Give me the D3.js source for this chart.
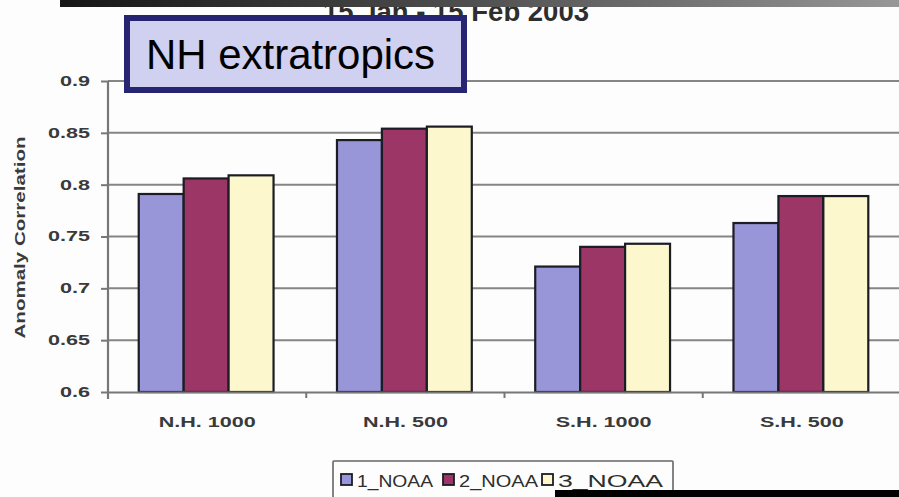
<!DOCTYPE html>
<html>
<head>
<meta charset="utf-8">
<script src="https://cdn.jsdelivr.net/npm/d3@7/dist/d3.min.js"></script>
<style>
  html, body { margin: 0; padding: 0; background: #fdfdfd; }
  svg { display: block; font-family: Arial, "Liberation Sans", sans-serif; }
</style>
</head>
<body>
<svg id="chart" width="899" height="497"></svg>
<script>
// Regions verified and anomaly correlation for each run
const categories = ["N.H. 1000", "N.H. 500", "S.H. 1000", "S.H. 500"];
const seriesNames = ["1_NOAA", "2_NOAA", "3_NOAA"];
const noaa1 = [0.791, 0.843, 0.721, 0.763];
const noaa2 = [0.806, 0.854, 0.740, 0.789];
const noaa3 = [0.809, 0.856, 0.743, 0.789];
const seriesValues = [noaa1, noaa2, noaa3];
const yTicks = [0.6, 0.65, 0.7, 0.75, 0.8, 0.85, 0.9];
const colors = ["#9896d8", "#9b3667", "#fcf7cc"];
const periodTitle = "15 Jan - 15 Feb 2003";
const panelLabel = "NH extratropics";
const yTitle = "Anomaly Correlation";

const svg = d3.select("#chart");

// fit text elements to a wider horizontal footprint
function widen(sel, k) {
  sel.each(function () {
    const w = this.getComputedTextLength();
    this.setAttribute("textLength", w * k);
    this.setAttribute("lengthAdjust", "spacingAndGlyphs");
  });
}
// stretch factor so that a sample label reaches a target width
function factorFor(sample, target, size, weight) {
  const t = svg.append("text").attr("font-size", size).attr("font-weight", weight).text(sample);
  const w = t.node().getComputedTextLength();
  t.remove();
  return target / w;
}

const plot = { left: 108, right: 901, top: 81, bottom: 392 };

const x0 = d3.scaleBand().domain(categories).range([plot.left, plot.right]).padding(0);
const x1 = d3.scaleBand().domain(seriesNames)
  .range([x0.bandwidth() * 0.155, x0.bandwidth() * 0.835]).padding(0);
const y = d3.scaleLinear().domain([0.6, 0.9]).range([plot.bottom, plot.top]);

// horizontal grid
svg.append("g")
  .selectAll("line")
  .data(yTicks.slice(1))
  .join("line")
  .attr("x1", plot.left).attr("x2", plot.right)
  .attr("y1", d => y(d)).attr("y2", d => y(d))
  .attr("stroke", "#858585").attr("stroke-width", 2);

// bars
const groups = svg.append("g")
  .selectAll("g")
  .data(categories)
  .join("g")
  .attr("transform", c => `translate(${x0(c)},0)`);

groups.selectAll("rect")
  .data((c, i) => seriesNames.map((s, j) => ({ s, j, v: seriesValues[j][i] })))
  .join("rect")
  .attr("x", d => x1(d.s))
  .attr("width", x1.bandwidth())
  .attr("y", d => y(d.v))
  .attr("height", d => y(0.6) - y(d.v))
  .attr("fill", d => colors[d.j])
  .attr("stroke", "#1c1c24")
  .attr("stroke-width", 2.2);

// y axis
const yFactor = factorFor("0.85", 42, 14, "bold");
const yAxis = svg.append("g")
  .attr("transform", `translate(${plot.left},0)`)
  .call(d3.axisLeft(y).tickValues(yTicks).tickFormat(d3.format("")).tickSize(7).tickPadding(11));
yAxis.select(".domain").attr("stroke", "#777").attr("stroke-width", 2.2)
  .attr("d", `M0,${plot.top}V${plot.bottom + 7}`);
yAxis.selectAll(".tick line").attr("stroke", "#777").attr("stroke-width", 2);
yAxis.selectAll(".tick text")
  .attr("font-size", 14).attr("font-weight", "bold").attr("fill", "#3a3a3a")
  .attr("font-family", "Arial, 'Liberation Sans', sans-serif")
  .call(widen, yFactor);

// x axis baseline and category separators
const xFactor = factorFor("N.H. 1000", 97, 15, "bold");
const xAxis = svg.append("g")
  .attr("transform", `translate(0,${plot.bottom})`)
  .call(d3.axisBottom(x0).tickSize(0).tickPadding(24));
xAxis.select(".domain").attr("stroke", "#777").attr("stroke-width", 2);
xAxis.selectAll(".tick text")
  .attr("font-size", 15).attr("font-weight", "bold").attr("fill", "#3a3a3a")
  .attr("font-family", "Arial, 'Liberation Sans', sans-serif")
  .call(widen, xFactor);
svg.append("g")
  .selectAll("line")
  .data(categories.slice(1))
  .join("line")
  .attr("x1", c => x0(c)).attr("x2", c => x0(c))
  .attr("y1", plot.bottom).attr("y2", plot.bottom + 6)
  .attr("stroke", "#777").attr("stroke-width", 2);

// y axis title
svg.append("text")
  .attr("transform", `translate(25,${(plot.top + plot.bottom) / 2 + 1}) rotate(-90)`)
  .attr("text-anchor", "middle")
  .attr("font-size", 15).attr("font-weight", "bold").attr("fill", "#3a3a3a")
  .attr("textLength", 202).attr("lengthAdjust", "spacingAndGlyphs")
  .text(yTitle);

// period title (partly hidden under the header bar and the label box)
svg.append("text")
  .attr("x", 456).attr("y", 21)
  .attr("text-anchor", "middle")
  .attr("font-size", 28).attr("font-weight", "bold").attr("fill", "#2e2e2e")
  .attr("textLength", 266).attr("lengthAdjust", "spacingAndGlyphs")
  .text(periodTitle);

// header bar
const defs = svg.append("defs");
const grad = defs.append("linearGradient").attr("id", "bar-grad")
  .attr("x1", "0%").attr("x2", "100%").attr("y1", "0%").attr("y2", "0%");
grad.append("stop").attr("offset", "0%").attr("stop-color", "#161616");
grad.append("stop").attr("offset", "45%").attr("stop-color", "#4a4a4a");
grad.append("stop").attr("offset", "100%").attr("stop-color", "#979797");
svg.append("rect")
  .attr("x", 60).attr("y", 0).attr("width", 839).attr("height", 7)
  .attr("fill", "url(#bar-grad)");

// panel label box
svg.append("rect")
  .attr("x", 127).attr("y", 18).attr("width", 337).attr("height", 72)
  .attr("fill", "#d0d0f0").attr("stroke", "#272472").attr("stroke-width", 6);
svg.append("text")
  .attr("x", 146).attr("y", 69)
  .attr("font-size", 43).attr("fill", "#000")
  .attr("font-family", "Arial, 'Liberation Sans', sans-serif")
  .attr("textLength", 289).attr("lengthAdjust", "spacingAndGlyphs")
  .text(panelLabel);

// legend
const legend = svg.append("g");
legend.append("rect")
  .attr("x", 333).attr("y", 461).attr("width", 340).attr("height", 44)
  .attr("fill", "#fdfdfd").attr("stroke", "#666").attr("stroke-width", 1.6).attr("rx", 1);
const legendX = [341, 443, 542];
const legendW = [76, 79, 105];
const items = legend.selectAll("g.item")
  .data(seriesNames)
  .join("g").attr("class", "item")
  .attr("transform", (d, i) => `translate(${legendX[i]},474)`);
items.append("rect")
  .attr("width", 11).attr("height", 11)
  .attr("fill", (d, i) => colors[i]).attr("stroke", "#1c1c24").attr("stroke-width", 1.8);
items.append("text")
  .attr("x", 16).attr("y", 12.5)
  .attr("font-size", 16).attr("fill", "#2e2e2e")
  .attr("textLength", (d, i) => legendW[i]).attr("lengthAdjust", "spacingAndGlyphs")
  .text(d => d);

// footer block
svg.append("rect")
  .attr("x", 555).attr("y", 490).attr("width", 344).attr("height", 7)
  .attr("fill", "#000");
</script>
</body>
</html>
